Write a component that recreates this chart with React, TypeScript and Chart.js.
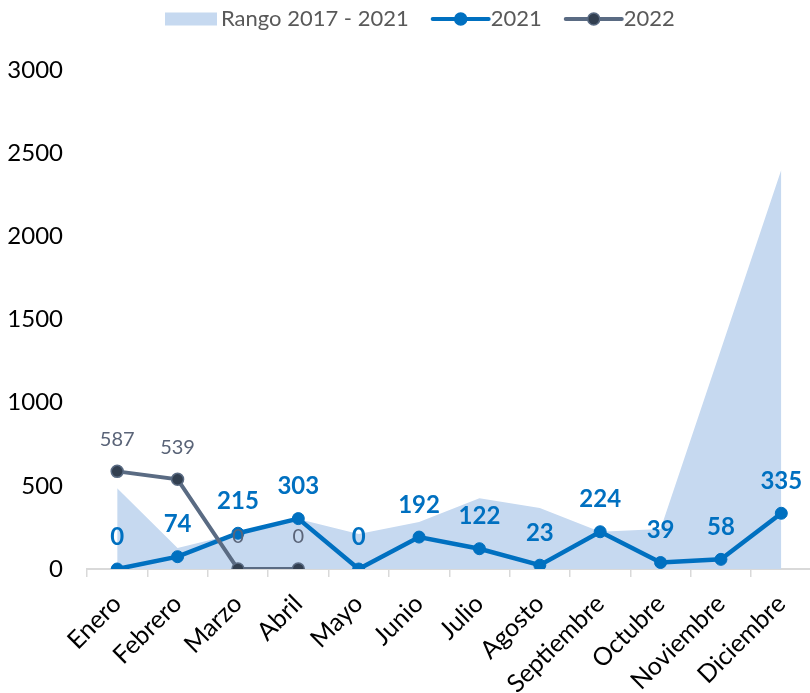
import { useEffect, useRef } from "react";
import { Chart, registerables } from "chart.js";

Chart.register(...registerables);

const categories = ["Enero", "Febrero", "Marzo", "Abril", "Mayo", "Junio", "Julio", "Agosto", "Septiembre", "Octubre", "Noviembre", "Diciembre"];
const rango = [486, 126, 215, 300, 210, 282, 426, 366, 224, 240, 1320, 2400];
const serie2021 = [0, 74, 215, 303, 0, 192, 122, 23, 224, 39, 58, 335];
const serie2022 = [587, 539, 0, 0];
const yTicks = [0, 500, 1000, 1500, 2000, 2500, 3000];
const seriesNames = ["Rango 2017 - 2021", "2021", "2022"];

const FONT = "Lato, 'Open Sans', sans-serif";
const C_AREA = "#c6d9f0";
const C_2021 = "#0070c0";
const C_2022_LINE = "#5a6b83";
const C_2022_PT = "#323f50";
const C_2022_TXT = "#5a6478";

const valueLabels = {
  id: "valueLabels",
  afterDatasetsDraw(chart: any) {
    const ctx = chart.ctx;
    const specs = [
      { di: 1, font: `bold 24px ${FONT}`, color: C_2021 },
      { di: 2, font: `20px ${FONT}`, color: C_2022_TXT },
    ];
    specs.forEach((s) => {
      const meta = chart.getDatasetMeta(s.di);
      const data = chart.data.datasets[s.di].data;
      ctx.save();
      ctx.font = s.font;
      ctx.fillStyle = s.color;
      ctx.textAlign = "center";
      ctx.textBaseline = "middle";
      meta.data.forEach((pt: any, i: number) => {
        ctx.fillText(String(data[i]), pt.x, pt.y - 32);
      });
      ctx.restore();
    });
  },
};

const customLegend = {
  id: "customLegend",
  afterDraw(chart: any) {
    const ctx = chart.ctx;
    ctx.save();
    ctx.font = `22px ${FONT}`;
    ctx.textBaseline = "middle";
    ctx.textAlign = "left";
    const cy = 19;
    let x = 165;
    ctx.fillStyle = C_AREA;
    ctx.fillRect(x, cy - 6.5, 52, 13);
    x += 56;
    ctx.fillStyle = "#595959";
    ctx.fillText(seriesNames[0], x, cy);
    x += ctx.measureText(seriesNames[0]).width + 24;
    const lineItem = (name: string, lc: string, pc: string) => {
      ctx.strokeStyle = lc;
      ctx.lineWidth = 4;
      ctx.lineCap = "round";
      ctx.beginPath();
      ctx.moveTo(x, cy);
      ctx.lineTo(x + 56, cy);
      ctx.stroke();
      ctx.beginPath();
      ctx.arc(x + 28, cy, 6, 0, Math.PI * 2);
      ctx.fillStyle = pc;
      ctx.fill();
      ctx.lineWidth = 1.5;
      ctx.stroke();
      x += 58;
      ctx.fillStyle = "#595959";
      ctx.fillText(name, x, cy);
      x += ctx.measureText(name).width + 24;
    };
    lineItem(seriesNames[1], C_2021, C_2021);
    lineItem(seriesNames[2], C_2022_LINE, C_2022_PT);
    ctx.restore();
  },
};

export default function App() {
  const ref = useRef<HTMLCanvasElement>(null);
  useEffect(() => {
    if (!ref.current) return;
    const chart = new Chart(ref.current, {
      type: "line",
      data: {
        labels: categories,
        datasets: [
          {
            label: seriesNames[0],
            data: rango,
            fill: "origin",
            backgroundColor: C_AREA,
            borderWidth: 0,
            pointRadius: 0,
            tension: 0,
            order: 2,
          },
          {
            label: seriesNames[1],
            data: serie2021,
            borderColor: C_2021,
            backgroundColor: C_2021,
            borderWidth: 4.5,
            pointRadius: 6,
            pointBackgroundColor: C_2021,
            pointBorderColor: C_2021,
            pointBorderWidth: 1,
            fill: false,
            tension: 0,
            order: 1,
          },
          {
            label: seriesNames[2],
            data: serie2022,
            borderColor: C_2022_LINE,
            backgroundColor: C_2022_PT,
            borderWidth: 4,
            pointRadius: 6,
            pointBackgroundColor: C_2022_PT,
            pointBorderColor: C_2022_LINE,
            pointBorderWidth: 1.5,
            fill: false,
            tension: 0,
            order: 0,
          },
        ],
      },
      options: {
        responsive: true,
        maintainAspectRatio: false,
        animation: false,
        layout: { padding: { top: 70, left: 0, right: 0, bottom: 0 } },
        plugins: {
          legend: { display: false },
          tooltip: { enabled: false },
        },
        scales: {
          x: {
            offset: true,
            grid: {
              display: true,
              offset: true,
              drawOnChartArea: false,
              drawTicks: true,
              tickLength: 8,
              color: "#d9d9d9",
              lineWidth: 1.5,
            },
            border: { display: true, color: "#d9d9d9", width: 2 },
            ticks: {
              color: "#000",
              font: { family: FONT, size: 25 },
              minRotation: 45,
              maxRotation: 45,
              autoSkip: false,
              padding: 12,
            },
            afterFit: (scale: any) => {
              scale.height = 124;
            },
          },
          y: {
            min: 0,
            max: 3000,
            afterBuildTicks: (scale: any) => {
              scale.ticks = yTicks.map((v) => ({ value: v }));
            },
            grid: { display: false },
            border: { display: false },
            ticks: {
              color: "#000",
              font: { family: FONT, size: 24 },
              padding: 16,
              callback: (v: any) => String(v),
            },
            afterFit: (scale: any) => {
              scale.width = 87;
            },
          },
        },
      },
      plugins: [valueLabels, customLegend],
    });
    return () => chart.destroy();
  }, []);
  return (
    <div style={{ position: "fixed", left: 0, top: 0, width: 810, height: 693, overflow: "hidden", background: "#fff" }}>
      <div style={{ position: "relative", width: 819, height: 693 }}>
        <canvas ref={ref} />
      </div>
    </div>
  );
}
